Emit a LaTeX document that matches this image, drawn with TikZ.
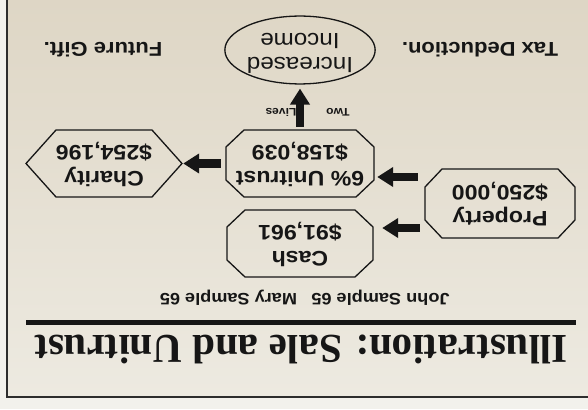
\documentclass[tikz,border=0pt]{standalone}
\usepackage{graphicx}
\usepackage{fontspec}
\setmainfont{Liberation Sans}
\newfontfamily\boxfont[FakeStretch=1.1]{Liberation Sans}
\newfontfamily\titlefont{Liberation Serif}
\usetikzlibrary{arrows.meta,shapes.geometric}
\definecolor{ink}{RGB}{22,22,22}
\definecolor{bgtop}{RGB}{222,214,197}
\definecolor{bgbot}{RGB}{237,234,225}
\definecolor{outside}{RGB}{242,241,236}
\definecolor{framecol}{RGB}{45,45,45}
\newcommand{\flip}[1]{\rotatebox[origin=c]{180}{\begin{tabular}{@{}c@{}}#1\end{tabular}}}
% octagon outline: cx cy w h dx dy
\newcommand{\octbox}[6]{%
  \draw[boxline] ({#1-#3/2+#5},{#2-#4/2}) -- ({#1+#3/2-#5},{#2-#4/2}) --
    ({#1+#3/2},{#2-#4/2+#6}) -- ({#1+#3/2},{#2+#4/2-#6}) --
    ({#1+#3/2-#5},{#2+#4/2}) -- ({#1-#3/2+#5},{#2+#4/2}) --
    ({#1-#3/2},{#2+#4/2-#6}) -- ({#1-#3/2},{#2-#4/2+#6}) -- cycle;}
% hexagon outline with pointed sides: cx cy w h dx
\newcommand{\hexbox}[5]{%
  \draw[boxline] ({#1-#3/2+#5},{#2-#4/2}) -- ({#1+#3/2-#5},{#2-#4/2}) --
    ({#1+#3/2},{#2}) -- ({#1+#3/2-#5},{#2+#4/2}) --
    ({#1-#3/2+#5},{#2+#4/2}) -- ({#1-#3/2},{#2}) -- cycle;}
\begin{document}
\begin{tikzpicture}[x=1pt,y=-1pt,
  boxline/.style={draw=ink,line width=1.3pt,line join=miter},
  slot/.style={inner sep=0pt,text=ink,font=\boxfont\bfseries\fontsize{21}{26}\selectfont},
  plain/.style={inner sep=0pt,text=ink,rotate=180},
  blk/.style={draw=ink,line width=8.5pt,-{Triangle[length=16pt,width=19pt]}}]
\useasboundingbox (0,0) rectangle (588,409);
\fill[outside] (0,0) rectangle (588,409);
\shade[top color=bgtop, bottom color=bgbot] (7,0) rectangle (588,397);
\draw[framecol, line width=2pt] (7,0) -- (7,397) -- (588,397);

% title and rule
\node[plain, font=\titlefont\bfseries\fontsize{41}{41}\selectfont] (title) at (301,349) {Illustration: Sale and Unitrust};
\draw[ink, line width=5pt] (26,322) -- (576,322);
\node[plain, font=\boxfont\bfseries\fontsize{16.5}{16.5}\selectfont] (john) at (380.5,298) {John Sample 65};
\node[plain, font=\boxfont\bfseries\fontsize{16.5}{16.5}\selectfont] (mary) at (228.5,298) {Mary Sample 65};

% boxes
\octbox{500}{203.5}{150}{69}{17}{18}
\node[slot, minimum width=150pt, minimum height=69pt] (prop) at (500,203.5) {\flip{Property\\\$250,000}};
\octbox{300}{243.5}{146}{67}{18}{17}
\node[slot, minimum width=146pt, minimum height=67pt] (cash) at (300,243.5) {\flip{Cash\\\$91,961}};
\octbox{300}{163.5}{148}{67}{18}{17}
\node[slot, minimum width=148pt, minimum height=67pt] (unit) at (300,163.5) {\flip{6\% Unitrust\\\$158,039}};
\hexbox{104}{163.5}{156}{67}{30}
\node[slot, minimum width=156pt, minimum height=67pt] (char) at (104,163.5) {\flip{Charity\\\$254,196}};
\node[ellipse, boxline, minimum width=144pt, minimum height=66pt, inner sep=0pt, text=ink,
      font=\boxfont\fontsize{22}{24}\selectfont] (ell) at (300,50) {\flip{Increased\\Income}};

% side texts
\node[plain, font=\boxfont\bfseries\fontsize{20}{20}\selectfont] (tax) at (480,50) {Tax Deduction.};
\node[plain, font=\boxfont\bfseries\fontsize{20}{20}\selectfont] (gift) at (103,50) {Future Gift.};
\node[plain, font=\boxfont\bfseries\fontsize{11}{11}\selectfont] (two) at (338,112) {Two};
\node[plain, font=\boxfont\bfseries\fontsize{11}{11}\selectfont] (lives) at (281,112) {Lives};

% arrows
\draw[blk, shorten <=5pt, shorten >=9pt] (prop.west |- 0,228) -- (cash.east |- 0,228);
\draw[blk, shorten <=7pt, shorten >=3pt] (prop.west |- 0,177) -- (unit.east |- 0,177);
\draw[blk, shorten <=5pt, shorten >=1pt] (unit) -- (char);
\draw[blk, shorten <=3pt, shorten >=4pt] (unit) -- (ell);
\end{tikzpicture}
\end{document}
